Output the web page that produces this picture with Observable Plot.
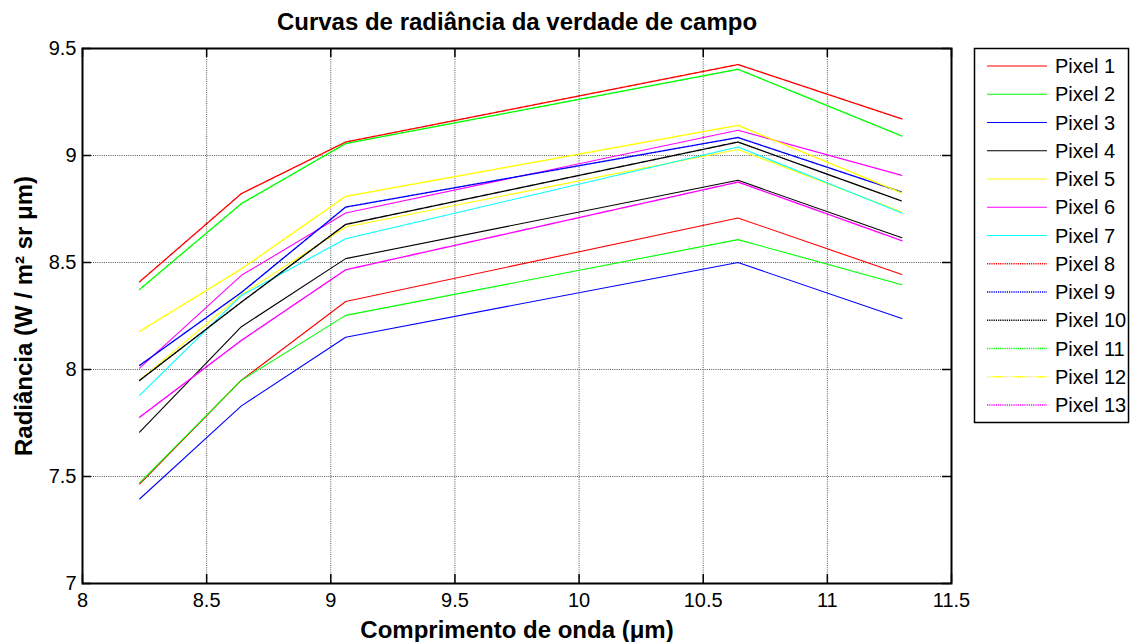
<!DOCTYPE html>
<html>
<head>
<meta charset="utf-8">
<script src="https://cdn.jsdelivr.net/npm/d3@7"></script>
<script src="https://cdn.jsdelivr.net/npm/@observablehq/plot@0.6"></script>
<style>
  html, body { margin: 0; padding: 0; background: #fff; }
  #chart { width: 1130px; height: 642px; }
</style>
</head>
<body>
<div id="chart"></div>
<script>
// Wavelengths (µm) of the five thermal bands
const wavelengths = [8.23, 8.64, 9.06, 10.64, 11.30];

// Field-truth radiance per pixel, W / m² sr µm
const pixel1  = [7.465, 7.950, 8.318, 8.708, 8.444];
const pixel2  = [7.470, 7.950, 8.253, 8.607, 8.396];
const pixel3  = [7.395, 7.830, 8.151, 8.500, 8.238];
const pixel4  = [7.707, 8.200, 8.518, 8.884, 8.616];
const pixel5  = [7.950, 8.350, 8.666, 9.028, 8.736];
const pixel6  = [8.006, 8.440, 8.731, 9.118, 8.907];
const pixel7  = [7.879, 8.346, 8.611, 9.040, 8.731];
const pixel8  = [8.410, 8.822, 9.063, 9.425, 9.171];
const pixel9  = [8.019, 8.360, 8.759, 9.084, 8.829];
const pixel10 = [7.949, 8.315, 8.678, 9.063, 8.787];
const pixel11 = [8.374, 8.775, 9.056, 9.403, 9.091];
const pixel12 = [8.178, 8.470, 8.809, 9.141, 8.825];
const pixel13 = [7.777, 8.136, 8.466, 8.876, 8.602];

const seriesNames = ["Pixel 1", "Pixel 2", "Pixel 3", "Pixel 4", "Pixel 5", "Pixel 6", "Pixel 7",
                     "Pixel 8", "Pixel 9", "Pixel 10", "Pixel 11", "Pixel 12", "Pixel 13"];
const seriesValues = [pixel1, pixel2, pixel3, pixel4, pixel5, pixel6, pixel7,
                      pixel8, pixel9, pixel10, pixel11, pixel12, pixel13];
const seriesColors = ["#ff0000", "#00ff00", "#0000ff", "#000000", "#ffff00", "#ff00ff", "#00ffff",
                      "#ff0000", "#0000ff", "#000000", "#00ff00", "#ffff00", "#ff00ff"];
const seriesDotted = [false, false, false, false, false, false, false,
                      true, true, true, true, true, true];

const xTicks = [8, 8.5, 9, 9.5, 10, 10.5, 11, 11.5];
const yTicks = [7, 7.5, 8, 8.5, 9, 9.5];

const titleText = "Curvas de radiância da verdade de campo";
const xLabelText = "Comprimento de onda (μm)";
const yLabelText = "Radiância (W / m² sr μm)";

// Long-format rows for the line marks
const rows = seriesNames.flatMap((name, i) =>
  wavelengths.map((wl, j) => ({series: name, wl, rad: seriesValues[i][j], dotted: seriesDotted[i]}))
);
const solidRows = rows.filter(d => !d.dotted);
const dottedRows = rows.filter(d => d.dotted);

const W = 1130, H = 642;
const mL = 82, mR = 179, mT = 48, mB = 59;
const innerW = W - mL - mR, innerH = H - mT - mB;
const tickLen = 9;
const fontFamily = "'Liberation Sans', Arial, Helvetica, sans-serif";
const fmt = d => String(d);

const chart = Plot.plot({
  width: W,
  height: H,
  marginLeft: mL,
  marginRight: mR,
  marginTop: mT,
  marginBottom: mB,
  style: {fontFamily, fontSize: "20px", background: "#fff", color: "#000", overflow: "visible"},
  x: {domain: [8, 11.5]},
  y: {domain: [7, 9.5]},
  color: {domain: seriesNames, range: seriesColors},
  marks: [
    Plot.gridX(xTicks, {stroke: "#555", strokeOpacity: 1, strokeWidth: 1, strokeDasharray: "1,1.2"}),
    Plot.gridY(yTicks, {stroke: "#555", strokeOpacity: 1, strokeWidth: 1, strokeDasharray: "1,1.2"}),
    Plot.line(solidRows, {x: "wl", y: "rad", z: "series", stroke: "series", strokeWidth: 1.1}),
    Plot.line(dottedRows, {x: "wl", y: "rad", z: "series", stroke: "series", strokeWidth: 1.4, strokeDasharray: "1.2,1"}),
    // inward ticks on all four sides
    Plot.ruleX(xTicks, {x: d => d, insetTop: innerH - tickLen, stroke: "#000", strokeWidth: 1.5}),
    Plot.ruleX(xTicks, {x: d => d, insetBottom: innerH - tickLen, stroke: "#000", strokeWidth: 1.5}),
    Plot.ruleY(yTicks, {y: d => d, insetRight: innerW - tickLen, stroke: "#000", strokeWidth: 1.5}),
    Plot.ruleY(yTicks, {y: d => d, insetLeft: innerW - tickLen, stroke: "#000", strokeWidth: 1.5}),
    Plot.frame({stroke: "#000", strokeWidth: 2}),
    Plot.axisX(xTicks, {tickSize: 0, tickPadding: 9, tickFormat: fmt, fontSize: 20, label: null}),
    Plot.axisY(yTicks, {tickSize: 0, tickPadding: 6, tickFormat: fmt, fontSize: 20, label: null}),
    Plot.text([titleText], {text: d => d, frameAnchor: "top", lineAnchor: "middle", textAnchor: "middle",
                            dy: -26, fontWeight: "bold", fontSize: 24}),
    Plot.text([xLabelText], {text: d => d, frameAnchor: "bottom", lineAnchor: "middle", textAnchor: "middle",
                             dy: 47, fontWeight: "bold", fontSize: 24}),
    Plot.text([yLabelText], {text: d => d, frameAnchor: "left", lineAnchor: "middle", textAnchor: "middle",
                             dx: -58, rotate: -90, fontWeight: "bold", fontSize: 24})
  ]
});

// Legend box at the right of the axes
const svg = d3.select(chart);
const lg = svg.append("g")
  .attr("font-family", fontFamily)
  .attr("font-size", 20)
  .attr("text-anchor", "start");
lg.append("rect")
  .attr("x", 974.5).attr("y", 48.5)
  .attr("width", 154).attr("height", 374)
  .attr("fill", "#fff").attr("stroke", "#000").attr("stroke-width", 1.5);
const rowStep = 28.25;
seriesNames.forEach((name, i) => {
  const cy = 66 + i * rowStep;
  lg.append("line")
    .attr("x1", 987).attr("x2", 1047).attr("y1", cy).attr("y2", cy)
    .attr("stroke", seriesColors[i])
    .attr("stroke-width", seriesDotted[i] ? 1.4 : 1.1)
    .attr("stroke-dasharray", seriesDotted[i] ? "1.2,1" : null);
  lg.append("text")
    .attr("x", 1055).attr("y", cy).attr("dy", "0.35em")
    .attr("text-anchor", "start")
    .attr("fill", "#000")
    .text(name);
});

document.getElementById("chart").appendChild(chart);
</script>
</body>
</html>
